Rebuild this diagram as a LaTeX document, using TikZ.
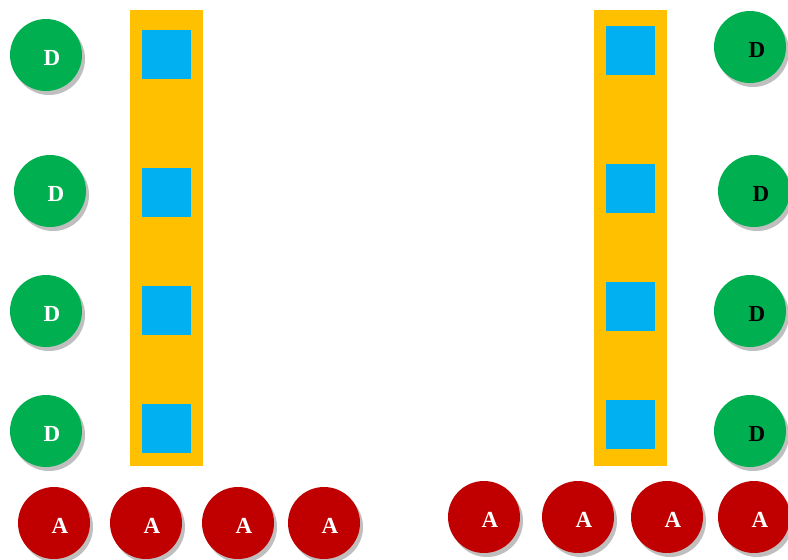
\documentclass[tikz,border=0pt]{standalone}
\usepackage{fontspec}
\setmainfont{Liberation Serif}
\usetikzlibrary{calc}
\definecolor{dgreen}{HTML}{00B050}
\definecolor{dred}{HTML}{C00000}
\definecolor{bar}{HTML}{FFC000}
\definecolor{sq}{HTML}{00B0F0}
\definecolor{shad}{HTML}{BFBFBF}
\tikzset{
  disc/.style={circle, minimum size=72pt, inner sep=0pt},
  dnode/.style={disc, fill=dgreen},
  anode/.style={disc, fill=dred},
  shadowdisc/.style={circle, minimum size=72pt, inner sep=0pt, fill=shad},
  lbl/.style={font=\bfseries\fontsize{23}{23}\selectfont, inner sep=0pt},
  wl/.style={lbl, text=white},
  bl/.style={lbl, text=black},
  barbox/.style={fill=bar, draw=none},
  sqbox/.style={fill=sq, draw=none}
}
\newcommand{\shadedisc}[4]{% name, style, x, y
  \node[shadowdisc] at (#3+3,#4+4) {};
  \node[#2] (#1) at (#3,#4) {};
}
\begin{document}
\begin{tikzpicture}[x=1pt,y=-1pt]
\useasboundingbox (0,0) rectangle (788,560);
% bars
\fill[barbox] (130,10) rectangle (203,466);
\fill[barbox] (594,10) rectangle (667,466);
% squares
\foreach \y [count=\i] in {30,168,286,404} {
  \node[sqbox, minimum size=49pt, inner sep=0pt, anchor=north west] (ls\i) at (142,\y) {};
}
\foreach \y [count=\i] in {26,164,282,400} {
  \node[sqbox, minimum size=49pt, inner sep=0pt, anchor=north west] (rs\i) at (606,\y) {};
}
% left D
\shadedisc{ld1}{dnode}{46}{55}
\shadedisc{ld2}{dnode}{50}{191}
\shadedisc{ld3}{dnode}{46}{311}
\shadedisc{ld4}{dnode}{46}{431}
\foreach \n in {ld1,ld2,ld3,ld4} { \node[wl] at ($(\n)+(6,3)$) {D}; }
% right D
\shadedisc{rd1}{dnode}{750}{47}
\shadedisc{rd2}{dnode}{754}{191}
\shadedisc{rd3}{dnode}{750}{311}
\shadedisc{rd4}{dnode}{750}{431}
\foreach \n in {rd1,rd2,rd3,rd4} { \node[bl] at ($(\n)+(7,3)$) {D}; }
% A
\shadedisc{a1}{anode}{54}{523}
\shadedisc{a2}{anode}{146}{523}
\shadedisc{a3}{anode}{238}{523}
\shadedisc{a4}{anode}{324}{523}
\shadedisc{a5}{anode}{484}{517}
\shadedisc{a6}{anode}{578}{517}
\shadedisc{a7}{anode}{667}{517}
\shadedisc{a8}{anode}{754}{517}
\foreach \n in {a1,a2,a3,a4,a5,a6,a7,a8} { \node[wl] at ($(\n)+(6,3)$) {A}; }
\end{tikzpicture}
\end{document}
